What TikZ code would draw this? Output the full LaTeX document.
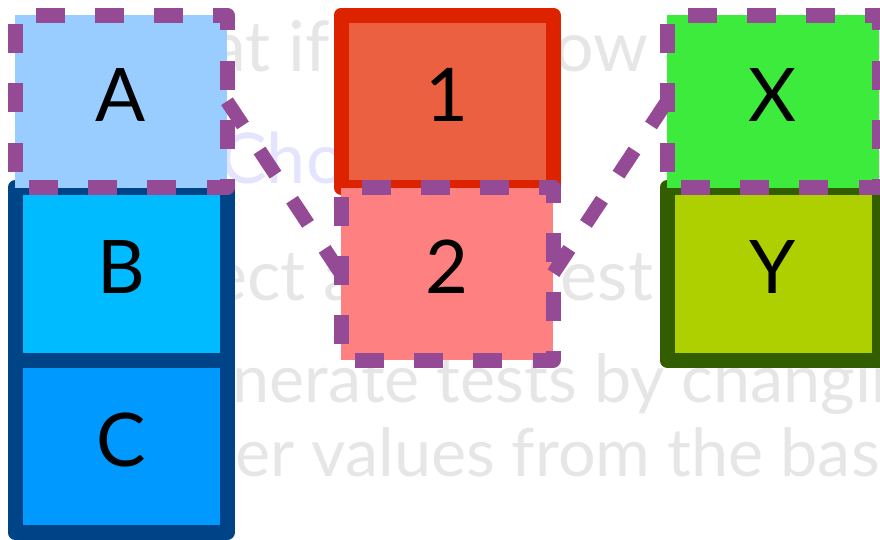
\documentclass[tikz,border=0pt]{standalone}
\usepackage{fontspec}
\setmainfont{Lato}
\usetikzlibrary{positioning}

\definecolor{basePurple}{RGB}{149,74,149}
\definecolor{aFill}{RGB}{153,204,255}
\definecolor{bFill}{RGB}{0,187,255}
\definecolor{cFill}{RGB}{0,153,255}
\definecolor{abcLine}{RGB}{0,68,136}
\definecolor{oneFill}{RGB}{235,96,64}
\definecolor{oneLine}{RGB}{221,34,0}
\definecolor{twoFill}{RGB}{255,128,128}
\definecolor{xFill}{RGB}{61,235,61}
\definecolor{yFill}{RGB}{175,208,0}
\definecolor{yLine}{RGB}{51,94,0}
\definecolor{slideGray}{RGB}{230,230,230}
\definecolor{slideLavender}{RGB}{228,228,255}

\tikzset{
  block/.style={minimum width=212pt, minimum height=172.5pt, inner sep=0pt,
    outer sep=0pt, text height=53pt, text depth=13pt,
    font=\fontsize{74}{80}\selectfont},
  solidblock/.style={block, draw=#1, line width=15pt, line join=round},
  basedash/.style={draw=basePurple, line width=15pt, line join=round,
    dash pattern=on 29pt off 30.15pt, dash phase=38.15pt},
  baselink/.style={draw=basePurple, line width=14pt,
    dash pattern=on 29pt off 30pt},
  slidetext/.style={anchor=base west, inner sep=0pt, text=slideGray,
    font=\fontsize{70}{76}\selectfont},
  subtext/.style={slidetext, font=\fontsize{66.5}{72}\selectfont},
}

\begin{document}
\begin{tikzpicture}[x=1pt, y=-1pt]
  \useasboundingbox (0,0) rectangle (880,539);

  % slide text behind the blocks
  \node[slidetext] (line1) at (100,71) {What if you know the};
  \node[slidetext, text=slideLavender] (line2) at (220,183) {Choose};
  \node[slidetext] (line3) at (119,300) {Select a base test};
  \node[subtext] (line4) at (149,402) {Generate tests by changing};
  \node[subtext] (line5) at (137,476) {other values from the base};

  % plain blocks
  \node[solidblock=abcLine, fill=bFill] (b) at (121,273.75) {B};
  \node[solidblock=abcLine, fill=cFill, below=0pt of b] (c) {C};
  \node[solidblock=oneLine, fill=oneFill] (one) at (447,101.25) {1};
  \node[solidblock=yLine, fill=yFill] (y) at (773,273.75) {Y};

  % base choice blocks
  \node[block, fill=aFill, above=0pt of b] (a) {A};
  \node[block, fill=twoFill, below=0pt of one] (two) {2};
  \node[block, fill=xFill, above=0pt of y] (x) {X};
  \foreach \n in {a,two,x}
    \draw[basedash] (\n.north west) -- (\n.north east)
      -- (\n.south east) -- (\n.south west) -- cycle;

  % base test
  \draw[baselink] (a.east) -- (two.west);
  \draw[baselink] (x.west) -- (two.east);
\end{tikzpicture}
\end{document}
